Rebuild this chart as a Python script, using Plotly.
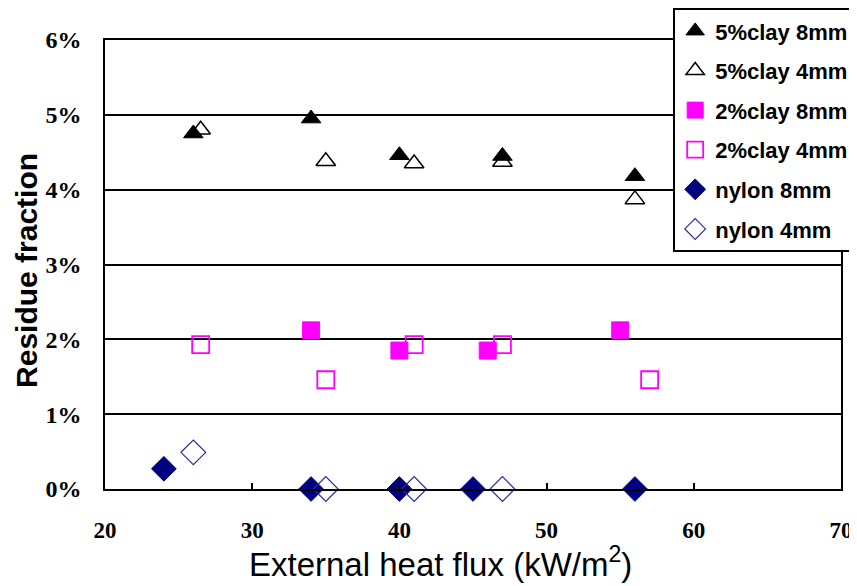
import plotly.graph_objects as go

# ---- data ----
clay5_8_x = [26, 34, 40, 47, 56]
clay5_8_y = [4.75, 4.95, 4.46, 4.45, 4.18]
clay5_4_x = [26.5, 35, 41, 47, 56]
clay5_4_y = [4.80, 4.38, 4.35, 4.37, 3.87]
clay2_8_x = [34, 40, 46, 55]
clay2_8_y = [2.12, 1.85, 1.85, 2.12]
clay2_4_x = [26.5, 35, 41, 47, 57]
clay2_4_y = [1.93, 1.46, 1.93, 1.93, 1.46]
nylon8_x = [24, 34, 40, 45, 56]
nylon8_y = [0.27, 0, 0, 0, 0]
nylon4_x = [26, 35, 41, 47]
nylon4_y = [0.49, 0, 0, 0]

series_names = ["5%clay 8mm", "5%clay 4mm", "2%clay 8mm", "2%clay 4mm", "nylon 8mm", "nylon 4mm"]
x_ticks = [20, 30, 40, 50, 60, 70]
y_ticks = [0, 1, 2, 3, 4, 5, 6]
y_tick_text = ["0%", "1%", "2%", "3%", "4%", "5%", "6%"]
x_title = "External heat flux (kW/m<sup>2</sup>)"
y_title = "Residue fraction"

fig = go.Figure()

def add(x, y, name, symbol, size, color, fill, lw):
    fig.add_trace(go.Scatter(
        x=x, y=y, mode="markers", name=name, legendgroup=name,
        cliponaxis=False,
        marker=dict(symbol=symbol, size=size,
                    color=fill if fill else color,
                    line=dict(color=color, width=lw)),
    ))

add(clay5_8_x, clay5_8_y, series_names[0], "triangle-up", 17, "black", "black", 1)
add(clay5_4_x, clay5_4_y, series_names[1], "triangle-up-open", 17, "black", None, 1.5)
add(clay2_8_x, clay2_8_y, series_names[2], "square", 17, "#FF00FF", "#FF00FF", 1)
add(clay2_4_x, clay2_4_y, series_names[3], "square-open", 17, "#FF00FF", None, 1.8)
add(nylon8_x, nylon8_y, series_names[4], "diamond", 19, "#000080", "#000080", 1)
add(nylon4_x, nylon4_y, series_names[5], "diamond-open", 19, "#2B2B9A", None, 1.2)

# the page body adds an 8px offset, so the figure is sized to fit the window
fig.update_layout(
    width=849, height=578,
    margin=dict(l=97, r=16, t=32, b=97, autoexpand=False),
    paper_bgcolor="white", plot_bgcolor="white",
    font=dict(family="Liberation Sans, Arial", color="black"),
    legend=dict(
        x=0.772, y=1.071, xanchor="left", yanchor="top",
        bgcolor="white", bordercolor="black", borderwidth=2,
        font=dict(family="Liberation Sans, Arial", size=22, color="black", weight="bold"),
        traceorder="grouped", tracegroupgap=8,
        itemwidth=30,
    ),
    xaxis=dict(
        range=[20, 70], tickvals=x_ticks,
        showgrid=False, zeroline=False,
        showline=True, linecolor="black", linewidth=1.5, mirror=True,
        ticks="inside", ticklen=6, tickcolor="black", tickwidth=1.5,
        ticklabelstandoff=20,
        tickfont=dict(family="Liberation Serif, Times New Roman", size=23, weight="bold"),
    ),
    yaxis=dict(
        range=[0, 6], tickvals=y_ticks, ticktext=y_tick_text,
        showgrid=True, gridcolor="black", gridwidth=1.5, zeroline=False,
        showline=True, linecolor="black", linewidth=1.5, mirror=True,
        ticks="", ticklabelstandoff=17,
        tickfont=dict(family="Liberation Serif, Times New Roman", size=24, weight="bold"),
    ),
    showlegend=True,
)

# axis titles (placed as in the reference, slightly off-centre)
fig.add_annotation(
    text=x_title, xref="paper", yref="paper", x=0.4565, y=-0.1625,
    xanchor="center", yanchor="middle", showarrow=False,
    font=dict(family="Liberation Sans, Arial", size=33, color="black"),
)
fig.add_annotation(
    text=y_title, xref="paper", yref="paper", x=-0.106, y=0.4878,
    xanchor="center", yanchor="middle", textangle=-90, showarrow=False,
    font=dict(family="Liberation Sans, Arial", size=30, color="black", weight="bold"),
)

fig.write_html("out.html")
